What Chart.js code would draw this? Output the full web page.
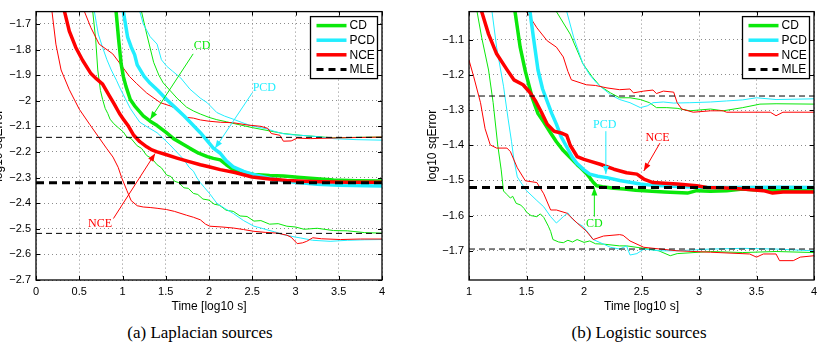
<!DOCTYPE html>
<html>
<head>
<meta charset="utf-8">
<script src="https://cdn.jsdelivr.net/npm/chart.js@4.4.0/dist/chart.umd.min.js"></script>
<style>
  body { margin: 0; background: #fff; width: 824px; height: 346px; overflow: hidden; position: relative; }
  .panel { position: absolute; top: 0; width: 412px; height: 322px; }
  .cap { position: absolute; top: 323px; width: 412px; text-align: center; font: 17px "Liberation Serif", serif; color: #000; }
</style>
</head>
<body>
<div class="panel" style="left:0"><canvas id="lap"></canvas></div>
<div class="panel" style="left:412px"><canvas id="logi"></canvas></div>
<div class="cap" style="left:-6px">(a) Laplacian sources</div>
<div class="cap" style="left:433px">(b) Logistic sources</div>
<script>
// points are [log10 time, log10 sqError]

// (a) Laplacian sources
const lapNceMid = [[0.33,-1.652],[0.385,-1.728],[0.46,-1.792],[0.54,-1.843],[0.635,-1.894],[0.7,-1.915],[0.77,-1.935],[0.85,-1.982],[0.9,-2.01],[0.965,-2.05],[1.01,-2.072],[1.07,-2.1],[1.13,-2.135],[1.2,-2.16],[1.28,-2.18],[1.34,-2.192],[1.4,-2.2],[1.5,-2.21],[1.63,-2.224],[1.75,-2.236],[1.9,-2.25],[2.0,-2.258],[2.13,-2.269],[2.3,-2.28],[2.5,-2.298],[2.7,-2.306],[2.9,-2.311],[3.1,-2.314],[3.3,-2.316],[3.6,-2.318],[4.0,-2.318]];
const lapNceLow = [[0.185,-1.652],[0.23,-1.779],[0.29,-1.88],[0.385,-1.957],[0.5,-2.033],[0.62,-2.092],[0.72,-2.14],[0.82,-2.188],[0.89,-2.22],[0.95,-2.26],[0.99,-2.3],[1.05,-2.35],[1.1,-2.39],[1.17,-2.41],[1.24,-2.415],[1.32,-2.417],[1.4,-2.42],[1.51,-2.425],[1.6,-2.432],[1.74,-2.447],[1.82,-2.455],[1.9,-2.465],[1.96,-2.482],[2.01,-2.49],[2.15,-2.493],[2.28,-2.497],[2.4,-2.503],[2.52,-2.51],[2.65,-2.514],[2.79,-2.517],[2.9,-2.525],[2.95,-2.533],[3.02,-2.558],[3.08,-2.555],[3.13,-2.549],[3.2,-2.535],[3.3,-2.539],[3.52,-2.542],[3.75,-2.54],[4.0,-2.54]];
const lapNceHigh = [[0.56,-1.652],[0.635,-1.715],[0.73,-1.779],[0.887,-1.817],[1.0,-1.868],[1.08,-1.905],[1.16,-1.932],[1.28,-1.97],[1.44,-2.008],[1.55,-2.02],[1.63,-2.033],[1.74,-2.065],[1.82,-2.068],[1.9,-2.075],[2.0,-2.08],[2.13,-2.084],[2.28,-2.086],[2.45,-2.095],[2.6,-2.1],[2.68,-2.108],[2.72,-2.128],[2.82,-2.135],[2.86,-2.158],[2.95,-2.157],[3.02,-2.146],[3.17,-2.148],[3.5,-2.145],[4.0,-2.142]];
const lapCdMid = [[0.926,-1.652],[0.955,-1.76],[0.984,-1.855],[1.01,-1.906],[1.04,-1.944],[1.09,-1.995],[1.14,-2.02],[1.24,-2.059],[1.32,-2.08],[1.4,-2.097],[1.5,-2.123],[1.59,-2.148],[1.7,-2.17],[1.78,-2.186],[1.88,-2.205],[1.98,-2.218],[2.05,-2.225],[2.13,-2.231],[2.2,-2.25],[2.28,-2.269],[2.4,-2.28],[2.52,-2.288],[2.7,-2.292],[2.86,-2.294],[3.06,-2.3],[3.25,-2.305],[3.44,-2.31],[3.7,-2.312],[4.0,-2.313]];
const lapCdLow = [[0.656,-1.652],[0.69,-1.76],[0.714,-1.88],[0.745,-1.96],[0.77,-1.995],[0.8,-2.03],[0.83,-2.05],[0.856,-2.072],[0.9,-2.09],[0.95,-2.105],[1.01,-2.122],[1.05,-2.142],[1.1,-2.148],[1.17,-2.176],[1.22,-2.186],[1.28,-2.214],[1.34,-2.226],[1.4,-2.25],[1.45,-2.262],[1.51,-2.29],[1.56,-2.296],[1.6,-2.314],[1.65,-2.32],[1.71,-2.34],[1.76,-2.342],[1.82,-2.362],[1.87,-2.366],[1.93,-2.384],[2.0,-2.388],[2.06,-2.404],[2.12,-2.408],[2.2,-2.428],[2.28,-2.432],[2.36,-2.45],[2.44,-2.452],[2.52,-2.47],[2.6,-2.468],[2.7,-2.482],[2.8,-2.48],[2.9,-2.49],[3.0,-2.493],[3.1,-2.502],[3.25,-2.498],[3.44,-2.507],[3.6,-2.508],[3.8,-2.515],[4.0,-2.517]];
const lapCdHigh = [[1.22,-1.652],[1.28,-1.74],[1.36,-1.85],[1.42,-1.9],[1.47,-1.93],[1.55,-1.96],[1.63,-1.99],[1.74,-2.025],[1.82,-2.04],[1.9,-2.052],[2.0,-2.065],[2.09,-2.074],[2.2,-2.082],[2.3,-2.09],[2.5,-2.105],[2.67,-2.116],[2.86,-2.128],[3.06,-2.135],[3.25,-2.14],[3.44,-2.145],[3.7,-2.143],[4.0,-2.142]];
const lapPcdMid = [[1.01,-1.652],[1.06,-1.753],[1.1,-1.79],[1.14,-1.82],[1.17,-1.86],[1.25,-1.905],[1.32,-1.932],[1.41,-1.96],[1.51,-1.995],[1.61,-2.027],[1.71,-2.059],[1.8,-2.09],[1.9,-2.125],[2.0,-2.165],[2.05,-2.185],[2.13,-2.205],[2.2,-2.235],[2.28,-2.258],[2.4,-2.276],[2.5,-2.287],[2.7,-2.303],[2.86,-2.313],[3.0,-2.318],[3.25,-2.326],[3.5,-2.33],[4.0,-2.333]];
const lapPcdLow = [[0.675,-1.652],[0.72,-1.74],[0.77,-1.792],[0.82,-1.84],[0.87,-1.88],[0.93,-1.92],[0.97,-1.95],[1.03,-1.99],[1.09,-2.03],[1.15,-2.06],[1.2,-2.084],[1.3,-2.105],[1.4,-2.125],[1.48,-2.15],[1.55,-2.173],[1.64,-2.205],[1.71,-2.23],[1.77,-2.26],[1.82,-2.275],[1.86,-2.3],[1.9,-2.32],[1.95,-2.34],[2.01,-2.364],[2.09,-2.4],[2.18,-2.42],[2.28,-2.44],[2.4,-2.468],[2.52,-2.49],[2.6,-2.497],[2.67,-2.504],[2.76,-2.512],[2.86,-2.523],[2.96,-2.53],[3.06,-2.536],[3.2,-2.545],[3.4,-2.549],[3.6,-2.545],[3.8,-2.543],[4.0,-2.542]];
const lapPcdHigh = [[1.2,-1.652],[1.24,-1.7],[1.32,-1.75],[1.40,-1.779],[1.45,-1.84],[1.51,-1.865],[1.58,-1.885],[1.67,-1.91],[1.78,-1.955],[1.9,-1.99],[1.98,-2.008],[2.09,-2.046],[2.18,-2.06],[2.28,-2.072],[2.38,-2.085],[2.48,-2.097],[2.58,-2.104],[2.67,-2.11],[2.76,-2.12],[2.86,-2.129],[2.96,-2.133],[3.06,-2.135],[3.25,-2.14],[3.44,-2.148],[3.7,-2.152],[4.0,-2.154]];
const lapMle = [-2.143, -2.32, -2.518];
const lapXTicks = [0, 0.5, 1, 1.5, 2, 2.5, 3, 3.5, 4];
const lapYTicks = [-2.7, -2.6, -2.5, -2.4, -2.3, -2.2, -2.1, -2, -1.9, -1.8, -1.7];

// (b) Logistic sources
const logNceMid = [[1.11,-1.02],[1.17,-1.084],[1.24,-1.14],[1.33,-1.185],[1.39,-1.214],[1.47,-1.228],[1.53,-1.25],[1.58,-1.275],[1.63,-1.306],[1.68,-1.34],[1.74,-1.36],[1.8,-1.365],[1.85,-1.372],[1.88,-1.4],[1.94,-1.432],[2.0,-1.44],[2.05,-1.445],[2.14,-1.454],[2.26,-1.468],[2.37,-1.478],[2.46,-1.482],[2.52,-1.496],[2.6,-1.506],[2.7,-1.508],[2.81,-1.51],[2.98,-1.515],[3.07,-1.52],[3.2,-1.521],[3.38,-1.524],[3.56,-1.529],[3.64,-1.536],[3.73,-1.533],[4.0,-1.533]];
const logNceLow = [[1.0,-1.158],[1.04,-1.204],[1.1,-1.279],[1.14,-1.353],[1.185,-1.399],[1.24,-1.408],[1.33,-1.408],[1.36,-1.418],[1.42,-1.464],[1.49,-1.501],[1.59,-1.506],[1.65,-1.538],[1.71,-1.584],[1.76,-1.584],[1.85,-1.593],[1.94,-1.621],[2.02,-1.644],[2.08,-1.668],[2.17,-1.658],[2.31,-1.654],[2.34,-1.656],[2.4,-1.672],[2.52,-1.69],[2.81,-1.7],[3.1,-1.704],[3.44,-1.709],[3.5,-1.718],[3.56,-1.709],[3.67,-1.709],[3.7,-1.728],[3.82,-1.728],[3.88,-1.718],[4.0,-1.714]];
const logNceHigh = [[1.50,-1.02],[1.59,-1.066],[1.68,-1.103],[1.76,-1.121],[1.82,-1.149],[1.86,-1.19],[1.89,-1.214],[2.02,-1.228],[2.1,-1.23],[2.2,-1.237],[2.31,-1.242],[2.40,-1.24],[2.43,-1.251],[2.52,-1.246],[2.60,-1.243],[2.63,-1.253],[2.69,-1.246],[2.78,-1.249],[2.81,-1.279],[2.85,-1.297],[2.95,-1.306],[3.1,-1.302],[3.21,-1.302],[3.24,-1.306],[3.62,-1.306],[3.67,-1.316],[3.73,-1.306],[4.0,-1.306]];
const logCdMid = [[1.40,-1.02],[1.445,-1.121],[1.49,-1.19],[1.55,-1.265],[1.6,-1.31],[1.65,-1.334],[1.71,-1.365],[1.76,-1.39],[1.82,-1.415],[1.88,-1.435],[1.94,-1.455],[1.97,-1.464],[2.02,-1.48],[2.05,-1.492],[2.08,-1.505],[2.11,-1.515],[2.16,-1.518],[2.26,-1.522],[2.35,-1.524],[2.45,-1.528],[2.52,-1.529],[2.7,-1.533],[2.9,-1.536],[2.98,-1.529],[3.1,-1.531],[3.24,-1.529],[3.38,-1.524],[3.5,-1.527],[3.67,-1.527],[4.0,-1.527]];
const logCdLow = [[1.07,-1.02],[1.11,-1.093],[1.17,-1.186],[1.21,-1.279],[1.25,-1.40],[1.28,-1.47],[1.3,-1.53],[1.33,-1.54],[1.36,-1.55],[1.38,-1.545],[1.41,-1.565],[1.45,-1.57],[1.48,-1.58],[1.5,-1.59],[1.54,-1.6],[1.59,-1.603],[1.62,-1.595],[1.65,-1.605],[1.69,-1.63],[1.71,-1.645],[1.73,-1.668],[1.78,-1.675],[1.82,-1.677],[1.86,-1.67],[1.9,-1.675],[1.94,-1.668],[2.0,-1.676],[2.05,-1.672],[2.1,-1.68],[2.17,-1.681],[2.31,-1.686],[2.37,-1.686],[2.52,-1.693],[2.65,-1.7],[2.75,-1.714],[2.81,-1.708],[3.1,-1.702],[3.38,-1.705],[3.67,-1.702],[4.0,-1.705]];
const logCdHigh = [[1.76,-1.02],[1.88,-1.084],[1.99,-1.168],[2.07,-1.205],[2.14,-1.232],[2.23,-1.251],[2.31,-1.265],[2.40,-1.265],[2.49,-1.27],[2.57,-1.279],[2.63,-1.293],[2.72,-1.293],[2.81,-1.295],[2.92,-1.302],[3.1,-1.297],[3.21,-1.302],[3.38,-1.293],[3.53,-1.283],[3.67,-1.282],[4.0,-1.283]];
const logPcdMid = [[1.53,-1.02],[1.56,-1.093],[1.6,-1.186],[1.64,-1.24],[1.68,-1.275],[1.72,-1.31],[1.76,-1.34],[1.8,-1.375],[1.85,-1.405],[1.9,-1.435],[1.94,-1.452],[2.0,-1.47],[2.05,-1.482],[2.12,-1.488],[2.2,-1.492],[2.31,-1.5],[2.4,-1.505],[2.49,-1.51],[2.6,-1.514],[2.81,-1.517],[3.1,-1.52],[3.4,-1.52],[3.7,-1.519],[4.0,-1.52]];
const logPcdLow = [[1.2,-1.02],[1.24,-1.121],[1.30,-1.232],[1.34,-1.325],[1.37,-1.39],[1.39,-1.44],[1.42,-1.49],[1.46,-1.51],[1.5,-1.529],[1.59,-1.557],[1.65,-1.575],[1.71,-1.603],[1.76,-1.621],[1.82,-1.603],[1.86,-1.592],[1.9,-1.61],[1.94,-1.621],[1.99,-1.63],[2.04,-1.65],[2.08,-1.668],[2.17,-1.681],[2.23,-1.69],[2.31,-1.695],[2.37,-1.686],[2.4,-1.712],[2.46,-1.708],[2.52,-1.695],[2.66,-1.7],[2.81,-1.7],[3.1,-1.695],[3.38,-1.693],[3.67,-1.695],[4.0,-1.7]];
const logPcdHigh = [[1.85,-1.02],[1.91,-1.093],[1.99,-1.168],[2.05,-1.2],[2.11,-1.223],[2.17,-1.24],[2.23,-1.256],[2.31,-1.27],[2.40,-1.279],[2.49,-1.293],[2.55,-1.288],[2.60,-1.279],[2.69,-1.277],[2.78,-1.28],[2.92,-1.279],[3.1,-1.277],[3.24,-1.274],[3.38,-1.271],[3.5,-1.265],[3.67,-1.27],[4.0,-1.268]];
const logMle = [-1.26, -1.52, -1.695];
const logXTicks = [1, 1.5, 2, 2.5, 3, 3.5, 4];
const logYTicks = [-1.7, -1.6, -1.5, -1.4, -1.3, -1.2, -1.1];

const GREEN = '#0be80b';
const CYAN = '#22eeff';
const RED = '#ff0000';
const SANS = "'Liberation Sans', Arial, sans-serif";

const legendItems = [
  { label: 'CD', color: GREEN, width: 3.5, dash: [] },
  { label: 'PCD', color: CYAN, width: 3.5, dash: [] },
  { label: 'NCE', color: RED, width: 3.5, dash: [] },
  { label: 'MLE', color: '#000', width: 3, dash: [7, 5] }
];

function fmt(v) {
  const s = Math.abs(v - Math.round(v)) < 1e-9 ? String(Math.round(v)) : v.toFixed(1);
  return s.replace('-', '\u2212');
}

function line(pts, color, width, dash) {
  return {
    data: pts.map(p => ({ x: p[0], y: p[1] })),
    showLine: true, borderColor: color, borderWidth: width, borderDash: dash || [],
    pointRadius: 0, tension: 0, borderJoinStyle: 'round'
  };
}

function mleLines(levels, x0) {
  return levels.map((v, i) => line([[x0, v], [4, v]], '#000', i === 1 ? 3 : 1, i === 1 ? [8, 5] : [6, 4]));
}

const decor = {
  id: 'decor',
  afterDraw(chart) {
    const o = chart.options.plugins.decor;
    const { ctx, chartArea: a } = chart;
    const xs = chart.scales.x, ys = chart.scales.y;
    ctx.save();
    // inward tick marks on all four sides
    ctx.strokeStyle = '#000';
    ctx.lineWidth = 1;
    ctx.beginPath();
    xs.ticks.forEach(t => {
      const px = Math.round(xs.getPixelForValue(t.value)) + 0.5;
      ctx.moveTo(px, a.bottom); ctx.lineTo(px, a.bottom - 4);
      ctx.moveTo(px, a.top); ctx.lineTo(px, a.top + 4);
    });
    ys.ticks.forEach(t => {
      const py = Math.round(ys.getPixelForValue(t.value)) + 0.5;
      ctx.moveTo(a.left, py); ctx.lineTo(a.left + 4, py);
      ctx.moveTo(a.right, py); ctx.lineTo(a.right - 4, py);
    });
    ctx.stroke();
    ctx.lineWidth = 1.3;
    ctx.strokeRect(a.left, a.top, a.right - a.left, a.bottom - a.top);

    // labelled arrows
    o.notes.forEach(n => {
      const x1 = xs.getPixelForValue(n.from[0]), y1 = ys.getPixelForValue(n.from[1]);
      const x2 = xs.getPixelForValue(n.to[0]), y2 = ys.getPixelForValue(n.to[1]);
      ctx.strokeStyle = n.color; ctx.fillStyle = n.color; ctx.lineWidth = 1;
      ctx.beginPath(); ctx.moveTo(x1, y1); ctx.lineTo(x2, y2); ctx.stroke();
      const ang = Math.atan2(y2 - y1, x2 - x1), L = 8, W = 3;
      ctx.beginPath();
      ctx.moveTo(x2, y2);
      ctx.lineTo(x2 - L * Math.cos(ang) + W * Math.sin(ang), y2 - L * Math.sin(ang) - W * Math.cos(ang));
      ctx.lineTo(x2 - L * Math.cos(ang) - W * Math.sin(ang), y2 - L * Math.sin(ang) + W * Math.cos(ang));
      ctx.closePath(); ctx.fill();
      ctx.font = '12px "Liberation Serif", serif';
      ctx.textAlign = 'center'; ctx.textBaseline = 'middle';
      ctx.fillText(n.text, xs.getPixelForValue(n.at[0]), ys.getPixelForValue(n.at[1]));
    });

    // legend box
    const bw = 67, bh = 62, bx = a.right - 4.5 - bw, by = a.top + 5;
    ctx.fillStyle = '#fff'; ctx.fillRect(bx, by, bw, bh);
    ctx.strokeStyle = '#000'; ctx.lineWidth = 1.3; ctx.strokeRect(bx, by, bw, bh);
    legendItems.forEach((it, i) => {
      const cy = by + 9 + i * 14.6;
      ctx.strokeStyle = it.color; ctx.lineWidth = it.width; ctx.setLineDash(it.dash);
      ctx.beginPath(); ctx.moveTo(bx + 6, cy); ctx.lineTo(bx + 36, cy); ctx.stroke();
      ctx.setLineDash([]);
      ctx.fillStyle = '#000'; ctx.font = '12px ' + SANS;
      ctx.textAlign = 'left'; ctx.textBaseline = 'middle';
      ctx.fillText(it.label, bx + 39, cy + 0.5);
    });
    ctx.restore();
  }
};

function makeChart(id, s, cfg) {
  const datasets = [
    ...mleLines(s.mle, cfg.xMin),
    line(s.nceMid, RED, 3.5), line(s.pcdMid, CYAN, 3.5), line(s.cdMid, GREEN, 3.5),
    line(s.nceLow, RED, 1), line(s.nceHigh, RED, 1),
    line(s.pcdLow, CYAN, 1), line(s.pcdHigh, CYAN, 1),
    line(s.cdLow, GREEN, 1), line(s.cdHigh, GREEN, 1)
  ];
  const gridOpts = { color: '#8c8c8c', lineWidth: 1, drawTicks: false };
  return new Chart(document.getElementById(id), {
    type: 'scatter',
    data: { datasets },
    options: {
      responsive: true,
      maintainAspectRatio: false,
      animation: false,
      layout: { padding: { left: 0, right: cfg.padRight, top: 7, bottom: 0 } },
      plugins: { legend: { display: false }, tooltip: { enabled: false }, decor: { notes: cfg.notes } },
      scales: {
        x: {
          type: 'linear', min: cfg.xMin, max: 4,
          afterBuildTicks: sc => { sc.ticks = cfg.xTicks.map(v => ({ value: v })); },
          afterFit: sc => { sc.height = 42; },
          grid: gridOpts,
          border: { display: false, dash: [1, 3] },
          ticks: { padding: 5, color: '#000', maxRotation: 0, autoSkip: false, font: { family: SANS, size: 11 }, callback: fmt },
          title: { display: true, text: 'Time [log10 s]', color: '#000', font: { family: SANS, size: 12 }, padding: { top: 0, bottom: 8 } }
        },
        y: {
          type: 'linear', min: cfg.yMin, max: cfg.yMax,
          afterBuildTicks: sc => { sc.ticks = cfg.yTicks.map(v => ({ value: v })); },
          afterFit: sc => { sc.width = cfg.yAxisWidth; },
          grid: gridOpts,
          border: { display: false, dash: [1, 3] },
          ticks: { padding: 5, color: '#000', font: { family: SANS, size: 11 }, callback: fmt },
          title: { display: true, text: 'log10 sqError', color: '#000', font: { family: SANS, size: 12, lineHeight: cfg.titleLH }, padding: { top: cfg.titlePad, bottom: 0 } }
        }
      }
    },
    plugins: [decor]
  });
}

makeChart('lap', {
  nceMid: lapNceMid, nceLow: lapNceLow, nceHigh: lapNceHigh,
  cdMid: lapCdMid, cdLow: lapCdLow, cdHigh: lapCdHigh,
  pcdMid: lapPcdMid, pcdLow: lapPcdLow, pcdHigh: lapPcdHigh, mle: lapMle
}, {
  xMin: 0, yMin: -2.7, yMax: -1.652, xTicks: lapXTicks, yTicks: lapYTicks,
  padRight: 30, yAxisWidth: 36, titleLH: 0.2, titlePad: -3,
  notes: [
    { text: 'CD', color: GREEN, at: [1.92, -1.786], from: [1.817, -1.817], to: [1.32, -2.073] },
    { text: 'PCD', color: CYAN, at: [2.64, -1.951], from: [2.5, -1.969], to: [2.07, -2.186] },
    { text: 'NCE', color: RED, at: [0.74, -2.48], from: [0.895, -2.46], to: [1.377, -2.206] }
  ]
});

makeChart('logi', {
  nceMid: logNceMid, nceLow: logNceLow, nceHigh: logNceHigh,
  cdMid: logCdMid, cdLow: logCdLow, cdHigh: logCdHigh,
  pcdMid: logPcdMid, pcdLow: logPcdLow, pcdHigh: logPcdHigh, mle: logMle
}, {
  xMin: 1, yMin: -1.783, yMax: -1.02, xTicks: logXTicks, yTicks: logYTicks,
  padRight: 10, yAxisWidth: 57, titleLH: 1.2, titlePad: 13,
  notes: [
    { text: 'PCD', color: CYAN, at: [2.18, -1.343], from: [2.19, -1.36], to: [2.19, -1.482] },
    { text: 'CD', color: GREEN, at: [2.09, -1.622], from: [2.09, -1.603], to: [2.09, -1.52] },
    { text: 'NCE', color: RED, at: [2.64, -1.379], from: [2.66, -1.394], to: [2.52, -1.473] }
  ]
});
</script>
</body>
</html>
